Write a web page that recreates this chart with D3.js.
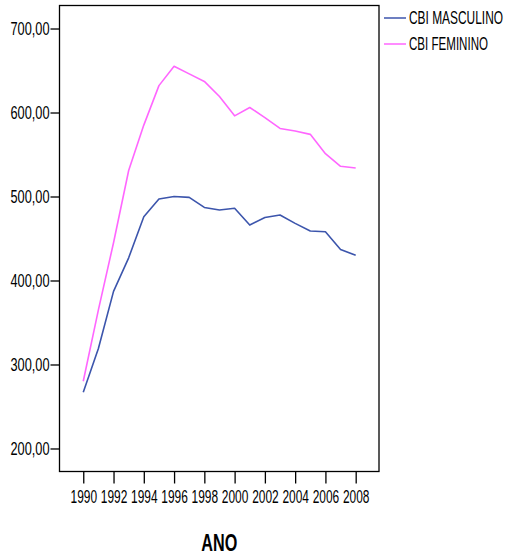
<!DOCTYPE html>
<html>
<head>
<meta charset="utf-8">
<script src="https://cdn.jsdelivr.net/npm/d3@7"></script>
<style>
  body { margin: 0; background: #fff; }
  svg text { font-family: "Liberation Sans Narrow", "Arial Narrow", "Liberation Sans", sans-serif; fill: #000; }
</style>
</head>
<body>
<svg></svg>
<script>
const years = d3.range(1990, 2009);
const masculino = [267, 319, 387, 427, 476, 497, 500, 499, 487, 484, 486, 466, 475, 478, 468, 459, 458, 437, 430];
const feminino = [280, 365, 445, 531, 585, 632, 655, 646, 637, 619, 596, 606, 594, 581, 578, 574, 551, 536, 534];
const yTicks = [200, 300, 400, 500, 600, 700];
const xTicks = d3.range(1990, 2009, 2);
const seriesNames = ["CBI MASCULINO", "CBI FEMININO"];
const seriesColors = ["#3c55ac", "#ff66ff"];

const width = 506;
const height = 559;
const plotLeft = 59.5;
const plotRight = 379;
const plotTop = 5.5;
const plotBottom = 471.5;

const svg = d3.select("svg").attr("width", width).attr("height", height);

const xScale = d3.scaleLinear().domain([1988.43, 2009.54]).range([plotLeft, plotRight]);
const yScale = d3.scaleLinear().domain([172.6, 727.4]).range([plotBottom, plotTop]);

// frame
svg
  .append("rect")
  .attr("x", plotLeft)
  .attr("y", plotTop)
  .attr("width", plotRight - plotLeft)
  .attr("height", plotBottom - plotTop)
  .attr("fill", "none")
  .attr("stroke", "#000")
  .attr("stroke-width", 1.3);

const xAxis = d3
  .axisBottom(xScale)
  .tickValues(xTicks)
  .tickFormat(d3.format("d"))
  .tickSize(12)
  .tickPadding(7)
  .tickSizeOuter(0);

const yAxis = d3
  .axisLeft(yScale)
  .tickValues(yTicks)
  .tickFormat((d) => d + ",00")
  .tickSize(9)
  .tickPadding(1)
  .tickSizeOuter(0);

const gx = svg
  .append("g")
  .attr("transform", "translate(0," + plotBottom + ")")
  .call(xAxis);

const gy = svg
  .append("g")
  .attr("transform", "translate(" + plotLeft + ",0)")
  .call(yAxis);

[gx, gy].forEach((g) => {
  g.select(".domain").remove();
  g.selectAll("line").attr("stroke", "#000").attr("stroke-width", 1.3);
  g.selectAll("text")
    .attr("font-size", 17.5)
    .style("font-family", '"Liberation Sans Narrow", "Arial Narrow", sans-serif');
});
gx.selectAll("text").attr("textLength", 26.5).attr("lengthAdjust", "spacingAndGlyphs");
gy.selectAll("text").attr("textLength", 39).attr("lengthAdjust", "spacingAndGlyphs");

// lines
const line = d3
  .line()
  .x((d, i) => xScale(years[i]))
  .y((d) => yScale(d));

[masculino, feminino].forEach((values, i) => {
  svg
    .append("path")
    .datum(values)
    .attr("d", line)
    .attr("fill", "none")
    .attr("stroke", seriesColors[i])
    .attr("stroke-width", 1.6)
    .attr("stroke-linejoin", "round");
});

// legend
const legend = svg
  .selectAll(".legend")
  .data(seriesNames)
  .enter()
  .append("g")
  .attr("transform", (d, i) => "translate(384," + (18 + i * 26) + ")");

legend
  .append("line")
  .attr("x1", 0)
  .attr("x2", 22)
  .attr("stroke", (d, i) => seriesColors[i])
  .attr("stroke-width", 1.5);

legend
  .append("text")
  .attr("x", 25)
  .attr("dy", "0.35em")
  .attr("font-size", 17.5)
  .attr("textLength", (d, i) => (i === 0 ? 94 : 79))
  .attr("lengthAdjust", "spacingAndGlyphs")
  .text((d) => d);

// axis title
svg
  .append("text")
  .attr("x", (plotLeft + plotRight) / 2)
  .attr("y", 551)
  .attr("text-anchor", "middle")
  .attr("font-size", 23)
  .attr("font-weight", "bold")
  .attr("textLength", 36)
  .attr("lengthAdjust", "spacingAndGlyphs")
  .text("ANO");
</script>
</body>
</html>
